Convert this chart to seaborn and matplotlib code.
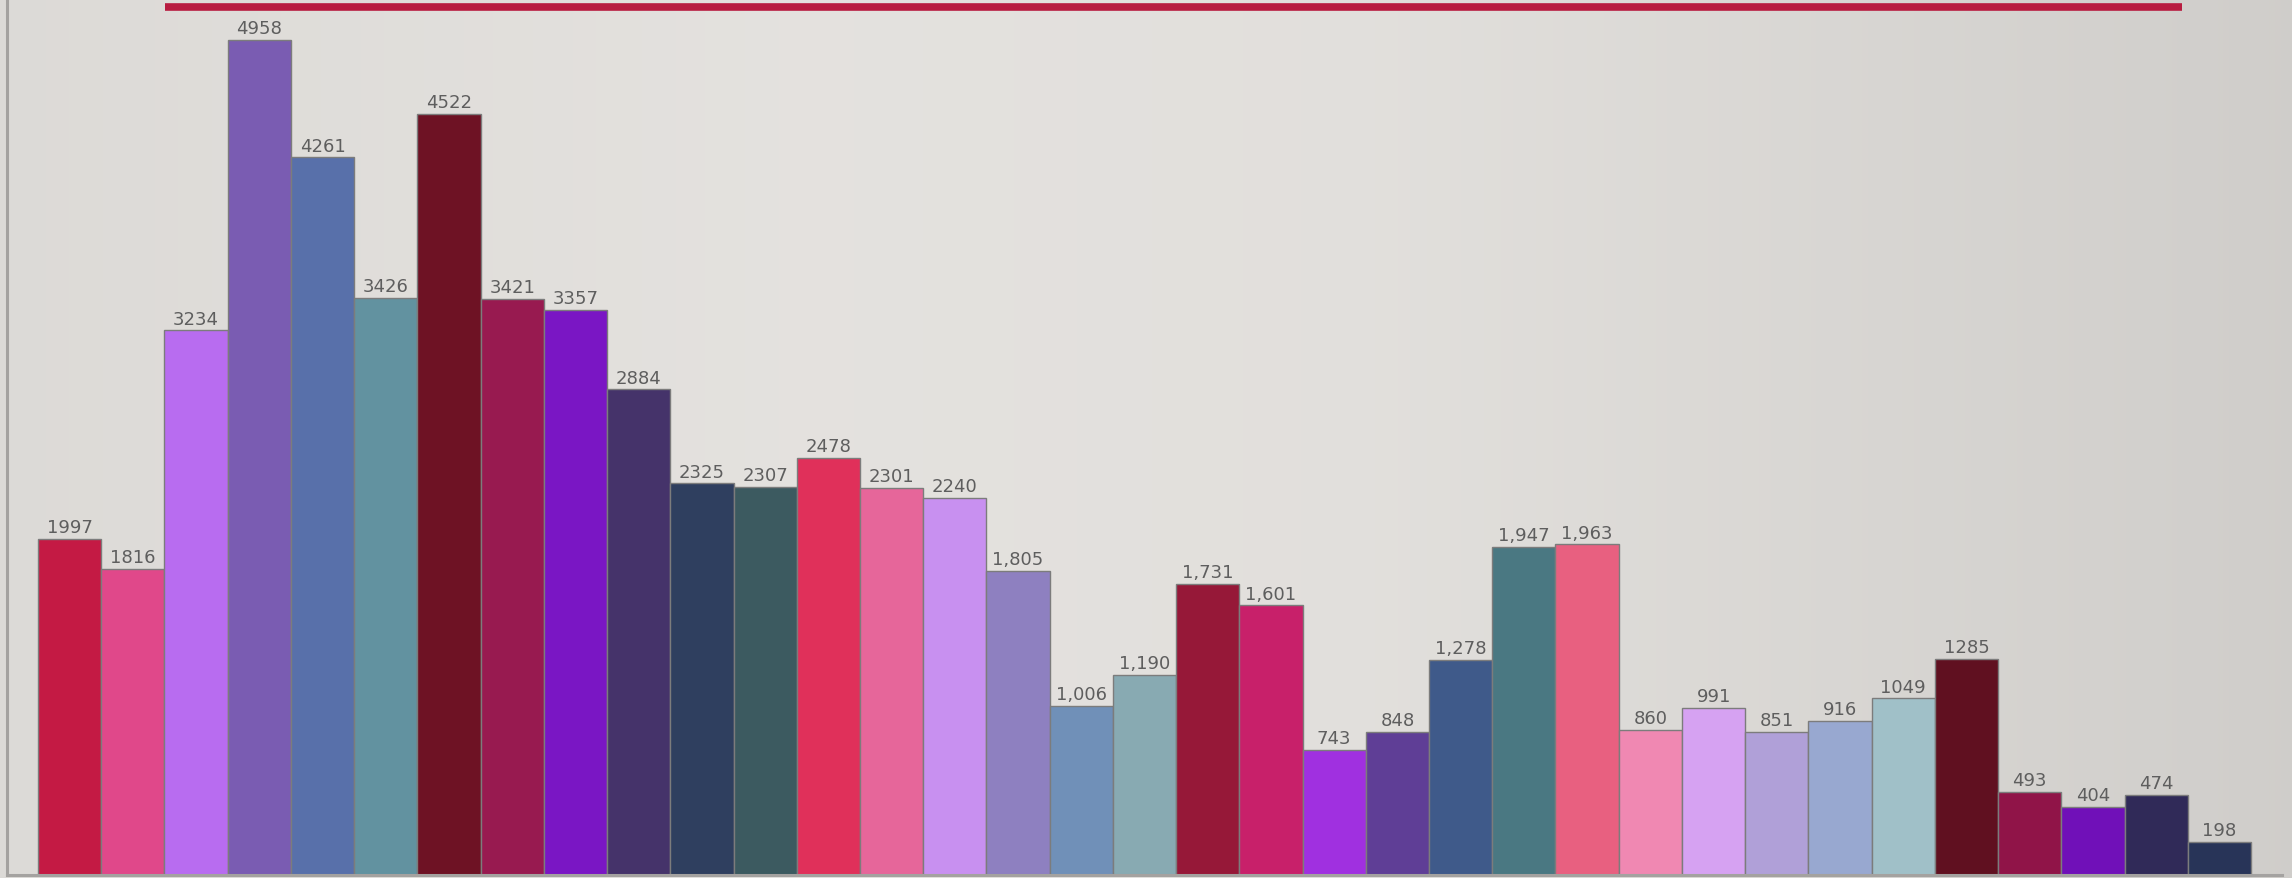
import numpy as np
import pandas as pd
import matplotlib
matplotlib.use("Agg")
import matplotlib.pyplot as plt
import seaborn as sns
from matplotlib.lines import Line2D

# ---- data ----
categories = [f"C{i+1}" for i in range(35)]
values = [1997, 1816, 3234, 4958, 4261, 3426, 4522, 3421, 3357, 2884,
          2325, 2307, 2478, 2301, 2240, 1805, 1006, 1190, 1731, 1601,
          743, 848, 1278, 1947, 1963, 860, 991, 851, 916, 1049,
          1285, 493, 404, 474, 198]
value_labels = ["1997", "1816", "3234", "4958", "4261", "3426", "4522", "3421", "3357", "2884",
                "2325", "2307", "2478", "2301", "2240", "1,805", "1,006", "1,190", "1,731", "1,601",
                "743", "848", "1,278", "1,947", "1,963", "860", "991", "851", "916", "1049",
                "1285", "493", "404", "474", "198"]
bar_colors = ["#c41a44", "#e0488a", "#b86cf0", "#7a5cb2", "#5870aa", "#6292a0", "#6e1224",
              "#981a50", "#7a16c4", "#45336a", "#2f3f5f", "#3c5a60", "#e0305a", "#e6669a",
              "#c890f0", "#8e80c0", "#7090b8", "#88aab2", "#961838", "#c8206a", "#a030e0",
              "#5f3e96", "#3f5a8a", "#4a7882", "#e86080", "#f088b2", "#d6a2f2", "#b0a0d8",
              "#98a8d0", "#a0c0c8", "#601020", "#901448", "#7010b8", "#302a58", "#283458"]

df = pd.DataFrame({"category": categories, "value": values})

W, H, DPI = 22.92, 8.79, 100
fig = plt.figure(figsize=(W, H), dpi=DPI)

# background gradient
bg = fig.add_axes([0, 0, 1, 1], zorder=0)
xs = np.linspace(0, 1, 400)
prof = np.interp(xs, [0, 0.35, 0.6, 1.0], [0.865, 0.895, 0.885, 0.815])
img = np.zeros((2, 400, 3))
base = np.array([1.0, 0.99, 0.975])
for k in range(3):
    img[:, :, k] = prof * base[k]
bg.imshow(img, aspect="auto", extent=[0, 1, 0, 1])
bg.set_axis_off()

# main axes (pixel-based placement)
px_left, px_right, px_bottom = 7, 2282, 876
ax = fig.add_axes([px_left / 2292, (879 - px_bottom) / 879,
                   (px_right - px_left) / 2292, px_bottom / 879], zorder=1)
ax.set_facecolor("none")

sns.barplot(data=df, x="category", y="value", hue="category",
            palette=bar_colors, width=1.0, legend=False, ax=ax,
            edgecolor="#7c7c7c", linewidth=1.0, saturation=1)

ax.set_ylim(0, 5202)
ax.set_xlim(-0.99, 34.99)
ax.set_xticks([])
ax.set_yticks([])
ax.set_xlabel("")
ax.set_ylabel("")
for s in ["top", "right"]:
    ax.spines[s].set_visible(False)
for s in ["left", "bottom"]:
    ax.spines[s].set_color("#a4a2a0")
    ax.spines[s].set_linewidth(2.2)

# value labels
for cont in ax.containers:
    idxs = []
    for bar in cont:
        idxs.append(int(round(bar.get_x() + bar.get_width() / 2)))
    labs = [value_labels[i] for i in idxs]
    ax.bar_label(cont, labels=labs, padding=2, fontsize=13, color="#5e5e5e",
                 family=["Liberation Sans Narrow", "DejaVu Sans"])

# decorative red rule at top
fig.add_artist(Line2D([165 / 2292, 2182 / 2292], [1 - 7.7 / 879, 1 - 7.7 / 879],
                      transform=fig.transFigure, color="#b81c40", linewidth=5.5,
                      solid_capstyle="butt", zorder=3))

fig.savefig("out.png", dpi=DPI)
